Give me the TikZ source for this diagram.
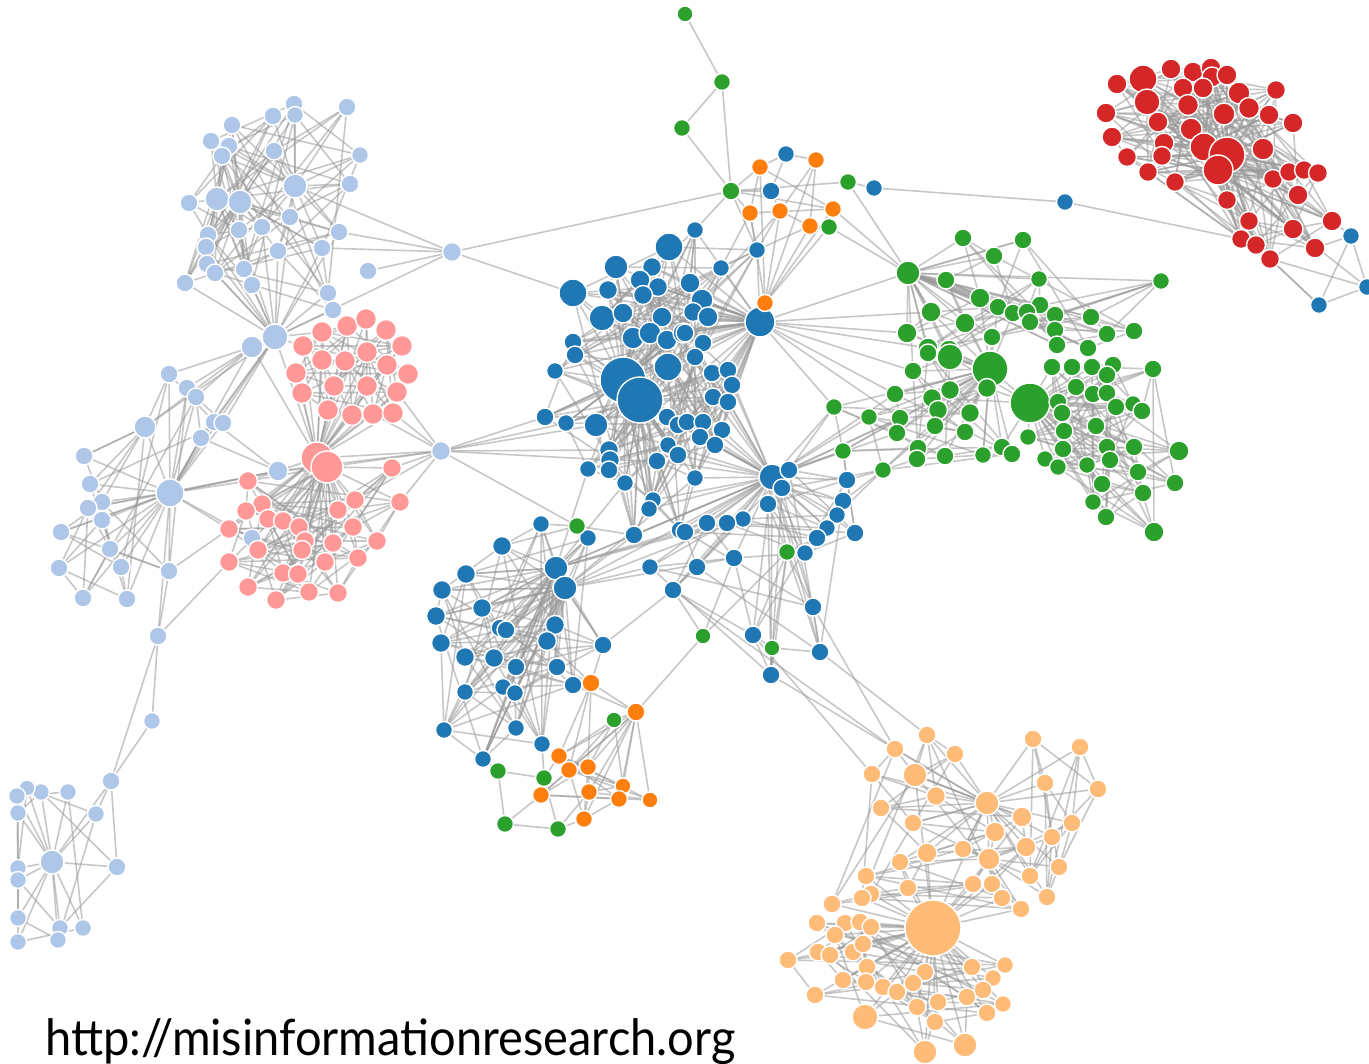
\documentclass[tikz,border=0pt]{standalone}
\usepackage{fontspec}
\usetikzlibrary{backgrounds}
\newfontfamily\urlfont{Lato}

\definecolor{cblue}{HTML}{1F77B4}
\definecolor{clblue}{HTML}{AEC7E8}
\definecolor{cpink}{HTML}{FF9896}
\definecolor{cgreen}{HTML}{2CA02C}
\definecolor{cred}{HTML}{D62728}
\definecolor{corange}{HTML}{FF7F0E}
\definecolor{clorange}{HTML}{FFBB78}

\tikzset{
  dot/.style={circle, draw=white, line width=1.4pt, inner sep=0pt, minimum size={#1pt+2pt}},
  link/.style={draw=gray!80, line width=1.6pt, opacity=0.55}
}

% hub to a run of nodes, and a ring of links inside a run
\newcommand\hublinks[4]{\foreach \i in {#3,...,#4}{\draw[link] (#1) -- (#2\i);}}
\newcommand\meshlinks[4]{\foreach \i in {#2,...,#3}{%
  \pgfmathtruncatemacro\j{#2+mod(\i-#2+#4,#3-#2+1)}%
  \draw[link] (#1\i) -- (#1\j);}}

\begin{document}
\begin{tikzpicture}[x=1pt, y=-1pt]
\useasboundingbox (0,0) rectangle (1369,1064);

% light blue
\foreach \n/\x/\y/\s in {1/295/186/22, 2/294/104/16, 3/295/115/15, 4/273/116/16, 5/347/107/16, 6/232/125/16, 7/211/141/16, 8/229/146/16, 9/222/156/16, 10/274/151/16, 11/360/155/15, 12/350/184/16, 13/189/203/16, 14/217/199/22, 15/240/202/22, 16/290/217/16, 17/262/227/16, 18/239/230/16, 19/339/232/16, 20/322/248/16, 21/278/251/16, 22/208/235/16, 23/206/247/16, 24/207/264/16, 25/215/273/16, 26/244/269/16, 27/252/285/16, 28/185/283/16, 29/328/293/16, 30/333/310/16, 31/275/337/24, 32/252/347/20, 33/452/252/17, 34/368/271/16, 35/169/374/16, 36/187/388/16, 37/196/397/16, 38/145/427/20, 39/214/422/16, 40/223/423/16, 41/201/438/16, 42/84/456/16, 43/278/471/18, 44/90/484/16, 45/170/493/26, 46/102/502/16, 47/88/508/16, 48/102/520/16, 49/61/532/16, 50/110/549/16, 51/59/568/16, 52/121/567/16, 53/169/571/16, 54/83/598/16, 55/127/599/16, 56/158/636/16, 57/252/538/16, 58/441/451/17, 59/152/721/15, 60/111/781/16, 61/52/862/22, 62/117/867/16, 63/96/814/15, 64/68/792/15, 65/41/792/15, 66/27/788/14, 67/17/796/15, 68/18/813/15, 69/18/868/15, 70/18/880/15, 71/18/918/15, 72/18/942/15, 73/60/928/15, 74/58/940/15, 75/83/928/15}
  \node[dot=\s, fill=clblue] (lb\n) at (\x,\y) {};

% pink
\foreach \n/\x/\y/\s in {1/322/332/19, 2/347/326/19, 3/366/319/19, 4/386/330/19, 5/402/346/19, 6/303/346/19, 7/322/360/19, 8/345/361/19, 9/367/352/19, 10/387/365/19, 11/408/374/19, 12/296/373/19, 13/334/386/19, 14/367/386/19, 15/397/392/19, 16/302/393/19, 17/328/410/19, 18/352/415/19, 19/373/414/19, 20/393/413/19, 21/317/458/30, 22/327/467/30, 23/248/481/17, 24/262/504/17, 25/246/511/17, 26/268/519/17, 27/283/521/17, 28/299/527/17, 29/338/510/17, 30/229/529/17, 31/305/541/17, 32/302/550/17, 33/258/550/17, 34/333/543/17, 35/325/562/17, 36/229/562/17, 37/283/573/17, 38/298/574/17, 39/248/587/17, 40/276/600/17, 41/309/592/17, 42/338/593/17, 43/392/468/17, 44/400/502/17, 45/353/527/17, 46/377/541/17, 47/358/558/17, 48/355/500/17}
  \node[dot=\s, fill=cpink] (pk\n) at (\x,\y) {};

% blue
\foreach \n/\x/\y/\s in {1/669/247/26, 2/616/267/22, 3/652/267/17, 4/573/293/26, 5/608/290/17, 6/640/280/18, 7/658/287/17, 8/643/295/17, 9/602/318/24, 10/623/313/18, 11/662/317/18, 12/633/338/20, 13/650/333/20, 14/667/340/18, 15/573/342/16, 16/683/333/18, 17/695/230/15, 18/757/250/15, 19/721/268/15, 20/690/283/18, 21/702/300/20, 22/693/312/17, 23/708/317/18, 24/760/322/28, 25/685/333/16, 26/703/343/16, 27/555/371/15, 28/575/355/16, 29/623/380/44, 30/640/400/44, 31/668/367/26, 32/545/417/16, 33/566/423/15, 34/596/425/22, 35/667/417/16, 36/678/425/16, 37/668/445/15, 38/678/455/16, 39/609/450/17, 40/610/460/17, 41/588/469/15, 42/609/470/16, 43/657/461/16, 44/625/483/15, 45/653/500/15, 46/649/509/15, 47/634/535/16, 48/680/530/16, 49/695/357/16, 50/712/373/16, 51/728/370/16, 52/732/385/16, 53/713/397/16, 54/728/402/16, 55/687/422/16, 56/703/422/16, 57/722/430/16, 58/700/437/16, 59/715/445/16, 60/695/478/15, 61/772/477/24, 62/789/470/16, 63/782/488/16, 64/847/480/16, 65/843/501/16, 66/768/504/16, 67/837/515/15, 68/827/528/15, 69/855/533/16, 70/817/538/16, 71/805/553/15, 72/743/519/15, 73/727/523/16, 74/707/523/16, 75/685/532/16, 76/734/558/16, 77/697/567/16, 78/650/567/15, 79/673/590/16, 80/813/607/16, 81/753/635/16, 82/820/652/16, 83/771/675/16, 84/541/524/15, 85/588/538/15, 86/502/546/17, 87/556/568/22, 88/565/588/22, 89/466/574/17, 90/442/590/17, 91/482/608/17, 92/436/616/17, 93/500/628/16, 94/506/630/16, 95/555/625/17, 96/547/641/17, 97/603/645/16, 98/441/643/17, 99/465/657/17, 100/494/658/17, 101/516/667/16, 102/557/667/16, 103/573/685/16, 104/465/692/15, 105/503/687/15, 106/515/693/15, 107/444/730/15, 108/516/728/15, 109/542/744/15, 110/483/759/15, 111/786/154/15, 112/771/191/16, 113/874/188/15, 114/1065/202/15, 115/1351/236/15, 116/1367/287/15, 117/1319/305/15}
  \node[dot=\s, fill=cblue] (b\n) at (\x,\y) {};

% green
\foreach \n/\x/\y/\s in {1/685/14/14, 2/722/82/15, 3/682/128/15, 4/731/191/16, 5/848/182/15, 6/829/227/15, 7/963/238/16, 8/1023/240/16, 9/994/256/16, 10/908/273/22, 11/946/280/16, 12/980/298/18, 13/998/307/16, 14/1013/313/16, 15/931/312/18, 16/965/323/18, 17/907/333/18, 18/928/348/18, 19/949/350/18, 20/992/337/16, 21/1039/279/15, 22/1161/281/15, 23/1040/305/16, 24/1055/315/16, 25/1091/317/16, 26/1027/312/16, 27/1030/322/16, 28/1055/330/16, 29/1107/334/16, 30/1134/331/16, 31/1057/345/16, 32/1088/348/16, 33/913/371/16, 34/928/353/16, 35/950/357/24, 36/990/369/34, 37/1030/403/38, 38/895/394/16, 39/932/398/17, 40/950/390/17, 41/938/410/17, 42/970/413/17, 43/987/388/17, 44/900/418/16, 45/935/426/16, 46/897/433/16, 47/965/432/16, 48/834/407/15, 49/869/417/15, 50/843/451/15, 51/883/470/15, 52/918/448/16, 53/917/459/16, 54/945/456/16, 55/983/455/15, 56/1002/447/16, 57/1012/454/16, 58/1052/367/16, 59/1072/367/16, 60/1092/367/16, 61/1113/365/16, 62/1153/369/16, 63/1076/387/16, 64/1093/394/16, 65/1107/393/16, 66/1107/375/16, 67/1058/402/16, 68/1062/413/16, 69/1116/407/16, 70/1133/404/15, 71/1142/411/16, 72/1096/426/16, 73/1064/431/16, 74/1028/437/15, 75/1063/449/16, 76/1107/447/16, 77/1134/447/16, 78/1179/451/18, 79/1110/460/16, 80/1045/459/15, 81/1058/467/15, 82/1087/465/15, 83/1138/472/16, 84/1102/484/16, 85/1175/483/16, 86/1143/493/16, 87/1093/502/15, 88/1106/517/16, 89/1154/532/18, 90/577/526/15, 91/787/552/15, 92/703/636/14, 93/772/648/14, 94/614/720/14, 95/498/771/15, 96/544/778/15, 97/505/824/15, 98/558/829/15}
  \node[dot=\s, fill=cgreen] (g\n) at (\x,\y) {};

% orange
\foreach \n/\x/\y/\s in {1/760/167/15, 2/816/160/15, 3/750/213/15, 4/780/211/15, 5/833/209/15, 6/810/226/15, 7/765/303/15, 8/591/683/16, 9/636/712/16, 10/559/756/15, 11/569/770/15, 12/588/767/15, 13/623/786/14, 14/541/795/15, 15/589/792/15, 16/619/799/15, 17/650/800/14, 18/584/819/15}
  \node[dot=\s, fill=corange] (o\n) at (\x,\y) {};

% red
\foreach \n/\x/\y/\s in {1/1117/84/18, 2/1143/79/26, 3/1171/69/18, 4/1193/72/18, 5/1211/68/18, 6/1212/77/18, 7/1227/75/18, 8/1183/88/18, 9/1203/88/18, 10/1239/93/20, 11/1276/90/17, 12/1147/102/24, 13/1188/105/19, 14/1106/113/18, 15/1158/122/18, 16/1224/114/20, 17/1249/108/19, 18/1269/115/18, 19/1293/123/18, 20/1191/129/20, 21/1112/137/18, 22/1164/143/18, 23/1204/147/26, 24/1227/155/34, 25/1263/149/20, 26/1127/157/17, 27/1162/156/17, 28/1218/170/28, 29/1148/172/17, 30/1175/182/17, 31/1273/179/17, 32/1289/172/17, 33/1304/170/17, 34/1318/173/17, 35/1227/200/17, 36/1298/195/18, 37/1249/221/17, 38/1332/221/18, 39/1293/229/18, 40/1241/239/17, 41/1256/245/17, 42/1315/248/18, 43/1270/259/17}
  \node[dot=\s, fill=cred] (r\n) at (\x,\y) {};

% light orange
\foreach \n/\x/\y/\s in {1/927/735/16, 2/895/749/16, 3/955/754/16, 4/872/774/16, 5/915/775/22, 6/936/796/17, 7/987/803/22, 8/881/808/16, 9/913/823/16, 10/1022/817/18, 11/995/832/18, 12/963/849/16, 13/927/853/18, 14/989/859/20, 15/1026/847/18, 16/900/862/16, 17/866/876/16, 18/908/888/16, 19/973/884/16, 20/992/884/16, 21/1002/898/16, 22/1021/909/16, 23/871/894/16, 24/862/898/16, 25/832/904/16, 26/933/928/54, 27/817/923/16, 28/845/923/16, 29/860/922/16, 30/871/927/16, 31/835/935/16, 32/818/952/16, 33/830/955/16, 34/853/952/16, 35/863/944/16, 36/788/960/16, 37/867/967/16, 38/972/967/16, 39/1005/965/15, 40/843/980/16, 41/925/972/16, 42/993/978/15, 43/866/982/16, 44/815/995/16, 45/883/987/16, 46/897/992/16, 47/913/983/16, 48/938/1002/16, 49/967/997/16, 50/983/990/16, 51/1003/1004/15, 52/987/1013/16, 53/917/1007/16, 54/865/1017/24, 55/935/1022/16, 56/925/1052/22, 57/965/1045/22, 58/1033/739/16, 59/1080/747/16, 60/1045/783/16, 61/1098/789/16, 62/1072/823/16, 63/1052/837/16, 64/1059/867/16, 65/1030/876/16, 66/1047/897/16}
  \node[dot=\s, fill=clorange] (lo\n) at (\x,\y) {};

\node[anchor=base west, inner sep=0pt] (url) at (45,1055)
  {\resizebox*{690pt}{46pt}{\urlfont http://misinformationresearch.org}};

\begin{pgfonlayer}{background}
% light blue
\hublinks{lb1}{lb}{2}{12} \hublinks{lb1}{lb}{16}{21}
\hublinks{lb14}{lb}{6}{13} \hublinks{lb14}{lb}{22}{28}
\hublinks{lb15}{lb}{16}{28} \hublinks{lb15}{lb}{7}{10}
\hublinks{lb31}{lb}{16}{30}
\hublinks{lb45}{lb}{35}{44} \hublinks{lb45}{lb}{46}{57}
\hublinks{lb61}{lb}{62}{75}
\meshlinks{lb}{2}{30}{5} \meshlinks{lb}{2}{30}{9}
\meshlinks{lb}{35}{55}{4} \meshlinks{lb}{46}{55}{3}
\meshlinks{lb}{62}{75}{3}
% pink
\hublinks{pk21}{pk}{1}{20} \hublinks{pk21}{pk}{23}{35}
\hublinks{pk22}{pk}{23}{48}
\meshlinks{pk}{1}{20}{1} \meshlinks{pk}{1}{20}{4} \meshlinks{pk}{1}{20}{9}
\meshlinks{pk}{23}{48}{2} \meshlinks{pk}{23}{48}{5} \meshlinks{pk}{23}{48}{11}
% blue
\hublinks{b24}{b}{1}{23} \hublinks{b24}{b}{25}{26} \hublinks{b24}{b}{49}{60}
\hublinks{b29}{b}{1}{28} \hublinks{b29}{b}{31}{48}
\hublinks{b30}{b}{31}{60}
\hublinks{b61}{b}{62}{83} \hublinks{b61}{b}{49}{60}
\hublinks{b87}{b}{84}{86} \hublinks{b87}{b}{88}{110}
\hublinks{b88}{b}{89}{110}
\meshlinks{b}{1}{60}{3} \meshlinks{b}{1}{60}{8} \meshlinks{b}{1}{60}{17}
\meshlinks{b}{62}{83}{2} \meshlinks{b}{62}{83}{5}
\meshlinks{b}{84}{110}{2} \meshlinks{b}{84}{110}{4} \meshlinks{b}{84}{110}{9}
% green
\hublinks{g10}{g}{7}{9} \hublinks{g10}{g}{11}{35}
\hublinks{g36}{g}{33}{35} \hublinks{g36}{g}{37}{57} \hublinks{g36}{g}{11}{20}
\hublinks{g37}{g}{58}{89}
\meshlinks{g}{7}{32}{2} \meshlinks{g}{7}{32}{5}
\meshlinks{g}{33}{57}{2} \meshlinks{g}{33}{57}{6}
\meshlinks{g}{58}{89}{2} \meshlinks{g}{58}{89}{5} \meshlinks{g}{58}{89}{9}
% red
\hublinks{r24}{r}{1}{23} \hublinks{r24}{r}{25}{43}
\hublinks{r23}{r}{1}{22}
\hublinks{r28}{r}{29}{43}
\meshlinks{r}{1}{43}{2} \meshlinks{r}{1}{43}{5} \meshlinks{r}{1}{43}{11} \meshlinks{r}{1}{43}{17}
% orange
\hublinks{o7}{o}{1}{6} \hublinks{o9}{o}{10}{18}
\meshlinks{o}{1}{6}{2} \meshlinks{o}{10}{18}{2} \meshlinks{o}{10}{18}{3}
% light orange
\hublinks{lo7}{lo}{1}{6} \hublinks{lo7}{lo}{8}{16} \hublinks{lo7}{lo}{58}{66}
\hublinks{lo26}{lo}{13}{25} \hublinks{lo26}{lo}{27}{57}
\hublinks{lo14}{lo}{10}{12} \hublinks{lo14}{lo}{19}{22} \hublinks{lo14}{lo}{62}{66}
\meshlinks{lo}{1}{25}{2} \meshlinks{lo}{1}{25}{5}
\meshlinks{lo}{27}{57}{3} \meshlinks{lo}{27}{57}{8}
\meshlinks{lo}{58}{66}{2} \meshlinks{lo}{58}{66}{3}

% links between groups
\foreach \a/\b in {lb33/lb1, lb33/lb19, lb33/lb20, lb33/lb34, lb33/lb31, lb33/b4, lb33/g4,
  lb14/lb15, lb14/lb17, lb14/lb18, lb31/lb32, lb32/lb45, lb32/lb38, lb32/lb35, lb32/lb36, lb32/lb37,
  lb31/lb39, lb31/lb40, lb31/lb41, lb31/lb45, lb31/lb38, lb31/pk21, lb32/pk21, lb31/pk6, lb31/pk1,
  lb38/lb35, lb38/lb42, lb38/lb44, lb38/lb46, lb38/lb47, lb43/lb41, lb43/pk22, lb43/lb45,
  lb45/pk23, lb45/pk30, lb56/lb53, lb56/lb59, lb56/lb60, lb56/pk36, lb53/pk30,
  lb59/lb60, lb60/lb61, lb60/lb62, lb60/lb63,
  lb58/pk21, lb58/pk22, lb58/pk43, lb58/pk44, lb58/pk19, lb58/pk20, lb58/pk48, lb58/pk15,
  lb58/b32, lb58/b33, lb58/b34, lb58/b39, lb58/b40, lb58/g90, lb58/lb43,
  b24/g10, b24/g17, b24/g18, b24/g15, b24/g44, b24/g38, b24/g48, b24/o7, b24/g33,
  b18/o3, b18/o4, b18/g4, b18/o6, b17/g4, b19/o3, b21/o4, o7/g6, o5/g10, g6/g10, g5/g10,
  g5/b113, b113/b114, b114/r40, b111/o2, b111/o1, b111/b112, b112/g4, b112/o4,
  g4/o3, g4/o1, g4/g2, g4/g3, g2/g1, g2/g3, g4/o5, g4/g5,
  b115/r38, b115/r42, b115/b116, b115/b117, b116/b117, b116/r43, b117/r43, b117/r41, r39/b116,
  g22/g29, g22/g25,
  b61/g48, b61/g50, b61/g38, b61/g44, b61/g46, b61/g49, b62/g48, b62/g50, b62/g44,
  b63/g51, b64/g50, b64/g51, b65/g51, b67/g51, b69/g50,
  b61/b30, b61/b36, b61/b37, b61/b38, b61/b43, b61/b45, b61/b46, b61/b47, b61/b48,
  b87/b61, b87/b62, b87/b73, b87/b74, b87/b75, b88/b61, b88/b72, b88/b76, b88/b60, b88/b47,
  b87/b44, b88/b78, b87/b41, b86/g90, b84/g90, g90/b85, g90/b47,
  g91/b80, g91/b81, g91/b82, g91/b83, g91/g93, g91/b71, g91/b70, g91/b61, g91/b66,
  g93/b81, g93/b82, g93/b83, g92/b79, g92/o9, g92/b76, g92/g91,
  b79/lo2, b80/lo2, b83/lo2, b82/lo1, b81/lo4,
  b102/o8, b103/o8, b103/o9, b97/o8, b97/b79, b96/o8,
  b107/g95, b110/g95, b104/b107, g95/g96, g95/g97, g96/g98, g97/g98, g96/o14, g96/o10, g96/b109,
  g97/o14, g98/o15, g98/o18, g94/o9, g94/o10, g94/o11, g94/o12, g94/o13,
  o8/o10, o8/o11, o8/o12, o9/o8, lo7/lo26, lo5/lo26, lo1/lo5}
  \draw[link] (\a) -- (\b);
\end{pgfonlayer}
\end{tikzpicture}
\end{document}
